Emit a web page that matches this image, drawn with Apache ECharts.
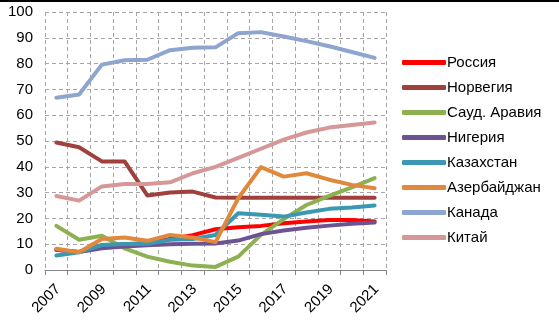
<!DOCTYPE html>
<html><head><meta charset="utf-8">
<script src="https://cdn.jsdelivr.net/npm/echarts@6/dist/echarts.min.js"></script>
<style>html,body{margin:0;padding:0;background:#fff}#c{width:559px;height:327px}</style>
</head><body><div id="c"></div>
<script>
const years = ['2007','2008','2009','2010','2011','2012','2013','2014','2015','2016','2017','2018','2019','2020','2021'];
const yTicks = [0,10,20,30,40,50,60,70,80,90,100];
const names = ['Россия','Норвегия','Сауд. Аравия','Нигерия','Казахстан','Азербайджан','Канада','Китай'];
const russia   = [7.8, 7.0, 9.5, 10.0, 10.5, 12.0, 13.5, 15.8, 16.6, 17.1, 18.1, 18.8, 19.4, 19.4, 18.8];
const norway   = [49.4, 47.6, 42.1, 42.1, 28.9, 30.0, 30.4, 28.1, 28.0, 28.0, 28.0, 28.0, 28.0, 28.0, 28.0];
const saudi    = [17.1, 11.7, 13.3, 8.4, 5.2, 3.2, 1.7, 1.2, 5.2, 13.6, 19.7, 25.2, 28.7, 32.0, 35.6];
const nigeria  = [7.8, 7.0, 8.4, 9.1, 9.6, 10.0, 10.2, 10.3, 11.4, 13.9, 15.3, 16.4, 17.2, 17.9, 18.4];
const kazakh   = [5.6, 6.9, 9.7, 10.1, 10.2, 11.7, 12.0, 13.6, 22.0, 21.4, 20.7, 22.3, 23.7, 24.2, 25.0];
const azerb    = [8.2, 6.9, 12.0, 12.6, 11.3, 13.6, 12.6, 10.8, 27.8, 39.9, 36.2, 37.5, 35.0, 33.0, 31.7];
const canada   = [66.8, 68.0, 79.6, 81.3, 81.5, 85.2, 86.1, 86.3, 91.8, 92.2, 90.5, 88.7, 86.7, 84.5, 82.2];
const china    = [28.7, 26.9, 32.4, 33.3, 33.3, 34.0, 37.5, 40.0, 43.5, 47.0, 50.5, 53.3, 55.2, 56.2, 57.2];
const seriesData = [russia, norway, saudi, nigeria, kazakh, azerb, canada, china];
const colors = ['#FF0000','#A0403D','#8DB050','#6C5393','#3B98B2','#E0893D','#8EA5CF','#D59798'];

const chart = echarts.init(document.getElementById('c'));
chart.setOption({
  animation: false,
  textStyle: {fontFamily: 'Liberation Sans, Arial, sans-serif'},
  graphic: [{type:'rect', shape:{x:0,y:0,width:559,height:2}, style:{fill:'#000'}}],
  grid: {left: 45, right: 173, top: 12, bottom: 57},
  legend: {
    orient: 'vertical', left: 397, top: 50, itemWidth: 44, itemHeight: 5, itemGap: 10,
    icon: 'roundRect',
    textStyle: {fontSize: 15, color: '#000', padding: [0,0,0,-4]},
    data: names
  },
  xAxis: {
    type: 'category', data: years, boundaryGap: true,
    axisLine: {lineStyle: {color: '#868686', width: 1}},
    axisTick: {show: true, length: 5, lineStyle: {color: '#868686'}, interval: 0},
    axisLabel: {rotate: 45, interval: 1, fontSize: 15, color: '#000', margin: 8, verticalAlign: 'top', padding: [0,5,0,0]},
    splitLine: {show: true, interval: 0, lineStyle: {type: [4,3], color: '#A6A6A6'}}
  },
  yAxis: {
    type: 'value', min: yTicks[0], max: yTicks[yTicks.length-1], interval: 10,
    axisLine: {show: false}, axisTick: {show: false},
    axisLabel: {fontSize: 15, color: '#000', margin: 12},
    splitLine: {lineStyle: {type: [4,3], color: '#A6A6A6'}}
  },
  series: names.map((n, i) => ({
    name: n, type: 'line', data: seriesData[i], symbol: 'none',
    lineStyle: {width: 4, color: colors[i], cap: 'round', join: 'round'},
    itemStyle: {color: colors[i]}
  }))
});
</script></body></html>
